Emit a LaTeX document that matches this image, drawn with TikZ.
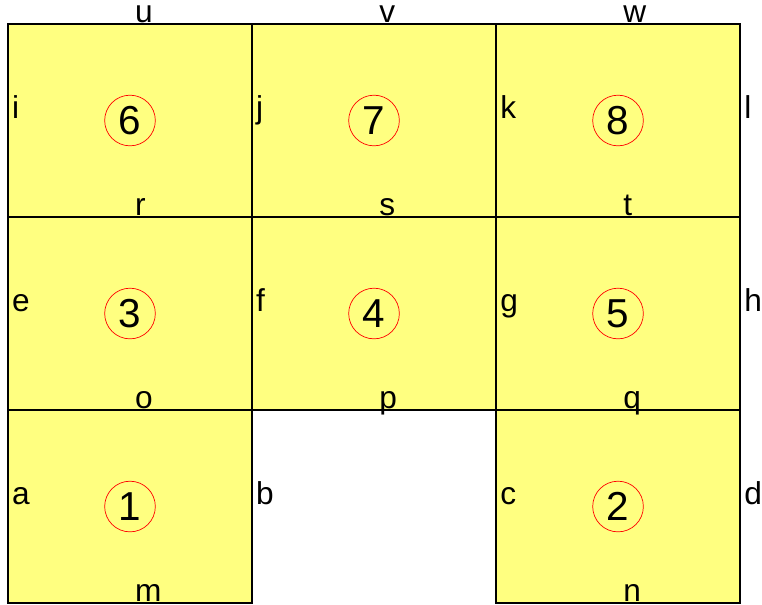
\documentclass[tikz,border=0pt]{standalone}
\usepackage{fontspec}
\setmainfont{Liberation Sans}
\usetikzlibrary{positioning}
\definecolor{cellyellow}{RGB}{255,255,128}

\begin{document}
\begin{tikzpicture}[
    x=0.03cm, y=-0.03cm,
    node distance=0cm,
    cell/.style={draw, fill=cellyellow, line width=1.1pt, minimum width=7.32cm, minimum height=5.79cm, inner sep=0pt, outer sep=0pt},
    num/.style={draw=red, circle, line width=0.6pt, minimum size=1.52cm, inner sep=0pt, font=\fontsize{34.5}{34.5}\selectfont},
    side/.style={anchor=base west, inner sep=0pt, font=\fontsize{27}{27}\selectfont},
]
\useasboundingbox (0,0) rectangle (762,604);

% Cells
\node[cell, anchor=north west] (c6) at (8,24) {};
\node[cell, right=of c6] (c7) {};
\node[cell, right=of c7] (c8) {};
\node[cell, below=of c6] (c3) {};
\node[cell, right=of c3] (c4) {};
\node[cell, right=of c4] (c5) {};
\node[cell, below=of c3] (c1) {};
\node[cell, below=of c5] (c2) {};

% Numbers
\node[num] (n1) at (c1) {1};
\node[num] (n2) at (c2) {2};
\node[num] (n3) at (c3) {3};
\node[num] (n4) at (c4) {4};
\node[num] (n5) at (c5) {5};
\node[num] (n6) at (c6) {6};
\node[num] (n7) at (c7) {7};
\node[num] (n8) at (c8) {8};

% Top labels
\node[side] (lu) at ([shift={(5,-2)}]c6.north) {u};
\node[side] (lv) at ([shift={(5,-2)}]c7.north) {v};
\node[side] (lw) at ([shift={(5,-2)}]c8.north) {w};

% Bottom labels
\node[side] (lr) at ([shift={(5,-2)}]c6.south) {r};
\node[side] (ls) at ([shift={(5,-2)}]c7.south) {s};
\node[side] (lt) at ([shift={(5,-2)}]c8.south) {t};
\node[side] (lo) at ([shift={(5,-2)}]c3.south) {o};
\node[side] (lp) at ([shift={(5,-2)}]c4.south) {p};
\node[side] (lq) at ([shift={(5,-2)}]c5.south) {q};
\node[side] (lm) at ([shift={(5,-2)}]c1.south) {m};
\node[side] (ln) at ([shift={(5,-2)}]c2.south) {n};

% Side labels
\node[side] (li) at ([shift={(4,-2.5)}]c6.west) {i};
\node[side] (lj) at ([shift={(4,-2.5)}]c7.west) {j};
\node[side] (lk) at ([shift={(4,-2.5)}]c8.west) {k};
\node[side] (ll) at ([shift={(4,-2.5)}]c8.east) {l};
\node[side] (le) at ([shift={(4,-2.5)}]c3.west) {e};
\node[side] (lf) at ([shift={(4,-2.5)}]c4.west) {f};
\node[side] (lg) at ([shift={(4,-2.5)}]c5.west) {g};
\node[side] (lh) at ([shift={(4,-2.5)}]c5.east) {h};
\node[side] (la) at ([shift={(4,-2.5)}]c1.west) {a};
\node[side] (lb) at ([shift={(4,-2.5)}]c1.east) {b};
\node[side] (lc) at ([shift={(4,-2.5)}]c2.west) {c};
\node[side] (ld) at ([shift={(4,-2.5)}]c2.east) {d};

\end{tikzpicture}
\end{document}
